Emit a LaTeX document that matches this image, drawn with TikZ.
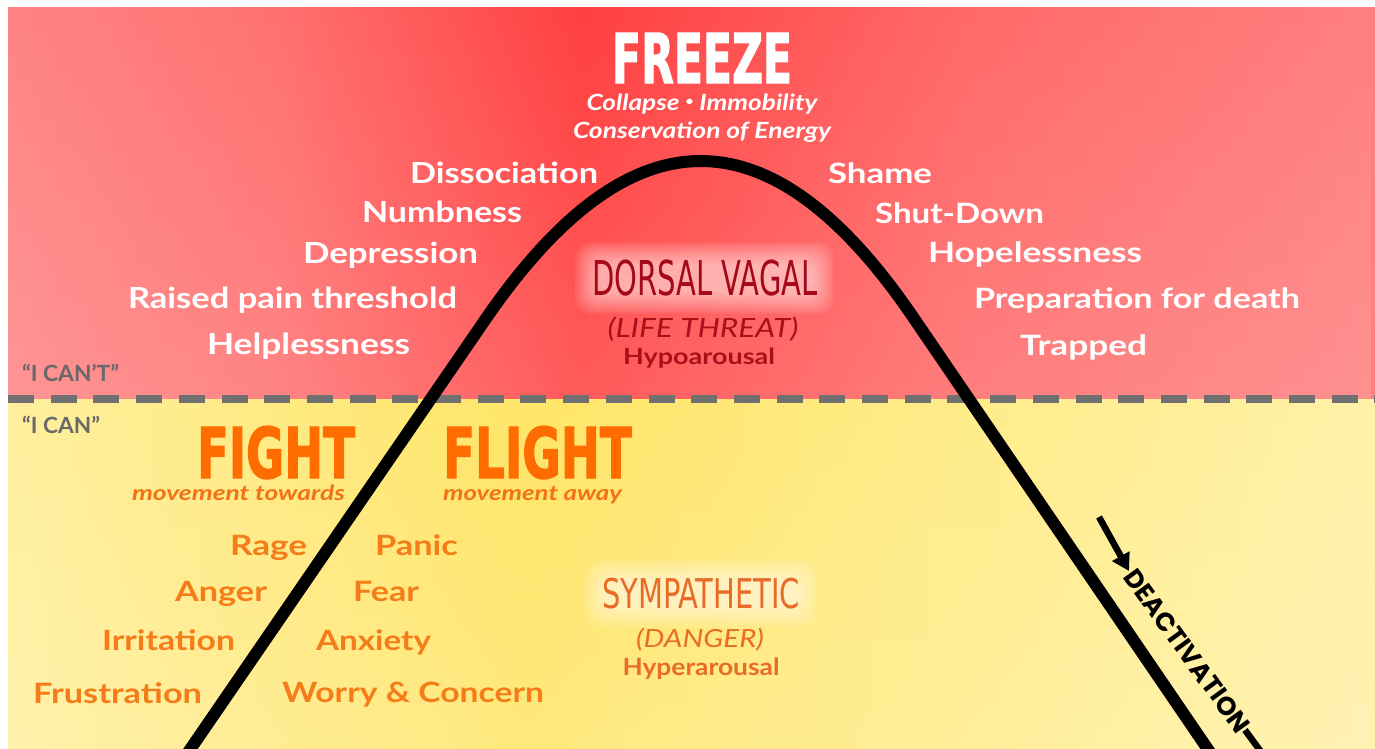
\documentclass[tikz,border=0pt]{standalone}
\usepackage{fontspec}
\setmainfont{Lato}
\newfontfamily\lato{Lato}
\newfontfamily\heavy{DejaVu Sans Condensed Bold}[FakeBold=2]
\newfontfamily\cond{DejaVu Sans Condensed}
\newfontfamily\pop{Poppins}
\usetikzlibrary{arrows.meta,fadings}

\definecolor{rA}{RGB}{255,160,160}
\definecolor{rB}{RGB}{255,142,142}
\definecolor{rC}{RGB}{255,112,112}
\definecolor{rD}{RGB}{255,64,64}
\definecolor{rE}{RGB}{255,105,105}
\definecolor{rF}{RGB}{255,135,135}
\definecolor{rG}{RGB}{255,165,165}
\definecolor{yA}{RGB}{255,249,215}
\definecolor{yB}{RGB}{255,242,172}
\definecolor{yC}{RGB}{255,229,104}
\definecolor{yD}{RGB}{255,236,138}
\definecolor{yE}{RGB}{255,243,178}
\definecolor{yF}{RGB}{255,248,205}
\definecolor{dashgray}{RGB}{112,112,112}
\definecolor{labgray}{RGB}{105,105,105}
\definecolor{dred}{RGB}{165,8,22}
\definecolor{dred2}{RGB}{170,16,28}
\definecolor{fightor}{RGB}{255,108,0}
\definecolor{subor}{RGB}{242,114,22}
\definecolor{wordor}{RGB}{245,124,24}
\definecolor{symor}{RGB}{232,108,40}

\pgfdeclarehorizontalshading{redgrad}{100bp}{color(0bp)=(rA); color(20bp)=(rB); color(35bp)=(rC); color(46bp)=(rD); color(60bp)=(rE); color(80bp)=(rF); color(100bp)=(rG)}
\pgfdeclarehorizontalshading{yelgrad}{100bp}{color(0bp)=(yA); color(20bp)=(yB); color(44bp)=(yC); color(60bp)=(yD); color(80bp)=(yE); color(100bp)=(yF)}

\newcommand\tx[3]{\resizebox{#1pt}{\height}{\fontsize{#2}{#2}\selectfont #3}}
\newcommand\smbullet{\raisebox{0.18em}{\scalebox{0.55}{•}}}

\begin{document}
\begin{tikzpicture}[x=1pt,y=-1pt,
  every node/.style={inner sep=0pt, outer sep=0pt},
  wtxt/.style={text=white, font=\lato\bfseries},
  witx/.style={text=white, font=\lato\bfseries\itshape},
  otxt/.style={text=wordor, font=\lato\bfseries},
  oitx/.style={text=subor, font=\lato\bfseries\itshape},
  bigw/.style={text=white, font=\heavy},
  bigo/.style={text=fightor, font=\heavy},
  gray/.style={text=labgray, font=\lato\bfseries},
  curve/.style={line width=12pt, black},
  dashln/.style={line width=8pt, dashgray, dash pattern=on 26pt off 16.7pt},
  deact/.style={text=black, font=\pop\bfseries},
  glowr/.style={white, opacity=0.065, rounded corners=16pt}
]
\useasboundingbox (0,0) rectangle (1375,748);
\fill[white] (0,0) rectangle (1375,748);
\begin{scope}
\clip (0,0) rectangle (1375,748);
% backgrounds
\shade[shading=redgrad] (8,7) rectangle (1375,399);
\shade[shading=yelgrad] (8,399) rectangle (1375,748);
\fill[white, opacity=0.14, path fading=north] (8,7) rectangle (1375,399);
\fill[white, opacity=0.14, path fading=north] (8,399) rectangle (1375,748);

% glows
\foreach \k in {0,...,10}{
  \fill[glowr] ({597-2.2*\k},{264-2.2*\k}) rectangle ({812+2.2*\k},{292+2.2*\k});
  \fill[glowr] ({606-2.2*\k},{581-2.2*\k}) rectangle ({796+2.2*\k},{605+2.2*\k});
}

% dashed divider
\coordinate (dl) at (8,399);
\coordinate (dr) at (1375,399);
\draw[dashln] (dl) -- (dr);

% bell curve
\coordinate (cL) at (176,770);
\coordinate (p0) at (485.3,319.5);
\coordinate (c1) at (630.4,108.2);
\coordinate (c2) at (771.6,108.2);
\coordinate (p2) at (914.7,319.5);
\coordinate (cR) at (1222,770);
\draw[curve] (cL) -- (p0) .. controls (c1) and (c2) .. (p2) -- (cR);

% deactivation arrow
\coordinate (a1) at (1099,517);
\coordinate (a2) at (1129,571);
\draw[line width=6.5pt, -{Triangle[length=17pt,width=19pt]}] (a1) -- (a2);
\node[deact, rotate=-54] (deac) at (1187,651) {\tx{195}{25.8}{DEACTIVATION}};
\coordinate (t1) at (1245,730);
\coordinate (t2) at (1267,760);
\draw[line width=6.5pt] (t1) -- (t2);
\end{scope}

% FREEZE block
\node[bigw, anchor=base] (freeze) at (702,83) {\tx{180}{68.6}{FREEZE}};
\node[witx, anchor=base] (collapse) at (702,110) {\tx{231}{22.3}{Collapse \smbullet\ Immobility}};
\node[witx, anchor=base] (conserv) at (702,138) {\tx{258}{22.3}{Conservation of Energy}};

% left freeze list
\node[wtxt, anchor=base west] (dis) at (410,183) {\tx{188}{29}{Dissociation}};
\node[wtxt, anchor=base west] (numb) at (362,222) {\tx{160}{29}{Numbness}};
\node[wtxt, anchor=base west] (depr) at (303,263) {\tx{175}{29}{Depression}};
\node[wtxt, anchor=base west] (pain) at (128,308) {\tx{329}{29}{Raised pain threshold}};
\node[wtxt, anchor=base west] (help) at (207,354) {\tx{203}{29}{Helplessness}};

% right freeze list
\node[wtxt, anchor=base west] (shame) at (828,183) {\tx{104}{28}{Shame}};
\node[wtxt, anchor=base west] (shut) at (875,223) {\tx{169}{28}{Shut-Down}};
\node[wtxt, anchor=base west] (hope) at (928,262) {\tx{214}{28}{Hopelessness}};
\node[wtxt, anchor=base west] (prep) at (974,308) {\tx{326}{28}{Preparation for death}};
\node[wtxt, anchor=base west] (trap) at (1020,355) {\tx{127}{28}{Trapped}};

% dorsal vagal
\node[text=dred, font=\cond, anchor=base] (dorsal) at (705,295) {\tx{225}{48}{DORSAL VAGAL}};
\node[text=dred2, font=\lato\itshape, anchor=base] (life) at (703,337) {\tx{191}{26.5}{(LIFE THREAT)}};
\node[text=dred2, font=\lato\bfseries, anchor=base] (hypo) at (699,364) {\tx{152}{22.3}{Hypoarousal}};

% I can't / I can
\node[gray, anchor=base west] (icant) at (22,381) {\tx{97}{22.3}{“I CAN’T”}};
\node[gray, anchor=base west] (ican) at (22,433) {\tx{78}{22.3}{“I CAN”}};

% fight / flight
\node[bigo, anchor=base west] (fight) at (197,478) {\tx{158}{70}{FIGHT}};
\node[bigo, anchor=base west] (flight) at (443,478) {\tx{189}{70}{FLIGHT}};
\node[oitx, anchor=base west] (towards) at (132,500) {\tx{213}{21}{movement towards}};
\node[oitx, anchor=base west] (away) at (443,500) {\tx{179}{21}{movement away}};

% fight words
\node[otxt, anchor=base west] (rage) at (230,555) {\tx{77}{28}{Rage}};
\node[otxt, anchor=base west] (anger) at (175,601) {\tx{92}{28}{Anger}};
\node[otxt, anchor=base west] (irr) at (102,650) {\tx{133}{28}{Irritation}};
\node[otxt, anchor=base west] (frus) at (33,703) {\tx{169}{28}{Frustration}};
% flight words
\node[otxt, anchor=base west] (panic) at (375,555) {\tx{83}{28}{Panic}};
\node[otxt, anchor=base west] (fear) at (353,601) {\tx{66}{28}{Fear}};
\node[otxt, anchor=base west] (anx) at (316,650) {\tx{115}{28}{Anxiety}};
\node[otxt, anchor=base west] (worry) at (282,702) {\tx{262}{28}{Worry \& Concern}};

% sympathetic
\node[text=symor, font=\cond, anchor=base] (symp) at (701,608) {\tx{198}{41}{SYMPATHETIC}};
\node[text=symor, font=\lato\itshape, anchor=base] (danger) at (700,647) {\tx{128}{25}{(DANGER)}};
\node[text=symor, font=\lato\bfseries, anchor=base] (hyper) at (701,675) {\tx{157}{23.7}{Hyperarousal}};
\end{tikzpicture}
\end{document}
